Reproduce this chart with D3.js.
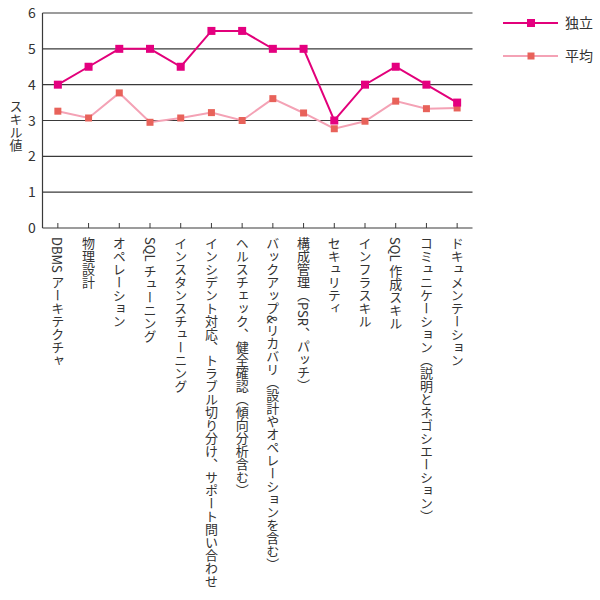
<!DOCTYPE html>
<meta charset="utf-8">
<script src="https://d3js.org/d3.v7.min.js"></script>
<style>
  body { margin: 0; background: #fff; }
  text { font-family: "Noto Sans CJK JP", "Noto Sans", sans-serif; fill: #333; }
</style>
<div id="my_dataviz"></div>
<script>
  // skill categories (x axis)
  var skills = [
    "DBMS アーキテクチャ",
    "物理設計",
    "オペレーション",
    "SQL チューニング",
    "インスタンスチューニング",
    "インシデント対応、トラブル切り分け、サポート問い合わせ",
    "ヘルスチェック、健全確認（傾向分析含む）",
    "バックアップ&リカバリ（設計やオペレーションを含む）",
    "構成管理（PSR、パッチ）",
    "セキュリティ",
    "インフラスキル",
    "SQL 作成スキル",
    "コミュニケーション（説明とネゴシエーション）",
    "ドキュメンテーション"
  ];
  var dokuritsu = [4, 4.5, 5, 5, 4.5, 5.5, 5.5, 5, 5, 3, 4, 4.5, 4, 3.5];
  var heikin = [3.26, 3.07, 3.77, 2.95, 3.07, 3.22, 3.0, 3.61, 3.21, 2.77, 2.98, 3.54, 3.33, 3.35];
  var yTicks = [0, 1, 2, 3, 4, 5, 6];

  var series = [
    { name: "独立", values: dokuritsu, line: "#e2007a", marker: "#e4007f", size: 8, width: 2 },
    { name: "平均", values: heikin, line: "#f4a2b5", marker: "#e8625a", size: 7, width: 2 }
  ];

  var width = 600, height = 600;
  var plotLeft = 42.5, plotRight = 472.5, plotTop = 13, plotBottom = 228;

  var svg = d3.select("#my_dataviz")
    .append("svg")
    .attr("width", width)
    .attr("height", height);

  var x = d3.scaleBand().domain(skills).range([plotLeft, plotRight]);
  var y = d3.scaleLinear().domain([0, 6]).range([plotBottom, plotTop]);
  var cx = d => x(d) + x.bandwidth() / 2;

  // horizontal grid lines
  svg.selectAll(".grid")
    .data(yTicks)
    .enter()
    .append("line")
    .attr("x1", plotLeft).attr("x2", plotRight)
    .attr("y1", d => y(d)).attr("y2", d => y(d))
    .attr("stroke", "#3a3a3a")
    .attr("stroke-width", 1.2);

  // y axis line
  svg.append("line")
    .attr("x1", plotLeft).attr("x2", plotLeft)
    .attr("y1", plotTop).attr("y2", plotBottom)
    .attr("stroke", "#3a3a3a")
    .attr("stroke-width", 1.2);

  // y tick labels
  svg.selectAll(".ylab")
    .data(yTicks)
    .enter()
    .append("text")
    .attr("x", 32)
    .attr("y", d => y(d))
    .attr("dy", "0.36em")
    .attr("text-anchor", "middle")
    .attr("font-size", 14)
    .text(d => d);

  // y axis title
  svg.append("text")
    .attr("x", 16)
    .attr("y", 100)
    .attr("font-size", 13)
    .style("writing-mode", "vertical-rl")
    .text("スキル値");

  // x ticks pointing inward
  svg.selectAll(".xtick")
    .data(skills)
    .enter()
    .append("line")
    .attr("x1", cx).attr("x2", cx)
    .attr("y1", plotBottom - 5).attr("y2", plotBottom)
    .attr("stroke", "#3a3a3a")
    .attr("stroke-width", 1);

  // x labels, vertical
  svg.selectAll(".xlab")
    .data(skills)
    .enter()
    .append("text")
    .attr("x", cx)
    .attr("y", 237)
    .attr("font-size", 13)
    .style("writing-mode", "vertical-rl")
    .text(d => d);

  var line = d3.line()
    .x((d, i) => cx(skills[i]))
    .y(d => y(d));

  // draw the average first so the main series sits on top
  series.slice().reverse().forEach(function(s) {
    svg.append("path")
      .datum(s.values)
      .attr("d", line)
      .attr("fill", "none")
      .attr("stroke", s.line)
      .attr("stroke-width", s.width);

    svg.selectAll(null)
      .data(s.values)
      .enter()
      .append("rect")
      .attr("x", (d, i) => cx(skills[i]) - s.size / 2)
      .attr("y", d => y(d) - s.size / 2)
      .attr("width", s.size)
      .attr("height", s.size)
      .attr("fill", s.marker);
  });

  // legend
  var legend = svg.selectAll(".legend")
    .data(series)
    .enter()
    .append("g")
    .attr("transform", (d, i) => "translate(503," + (23 + i * 33) + ")");

  legend.append("line")
    .attr("x1", 0).attr("x2", 55)
    .attr("stroke", d => d.line)
    .attr("stroke-width", 2);

  legend.append("rect")
    .attr("x", d => 28 - d.size / 2)
    .attr("y", d => -d.size / 2)
    .attr("width", d => d.size)
    .attr("height", d => d.size)
    .attr("fill", d => d.marker);

  legend.append("text")
    .attr("x", 62)
    .attr("dy", "0.36em")
    .attr("font-size", 14)
    .text(d => d.name);
</script>
